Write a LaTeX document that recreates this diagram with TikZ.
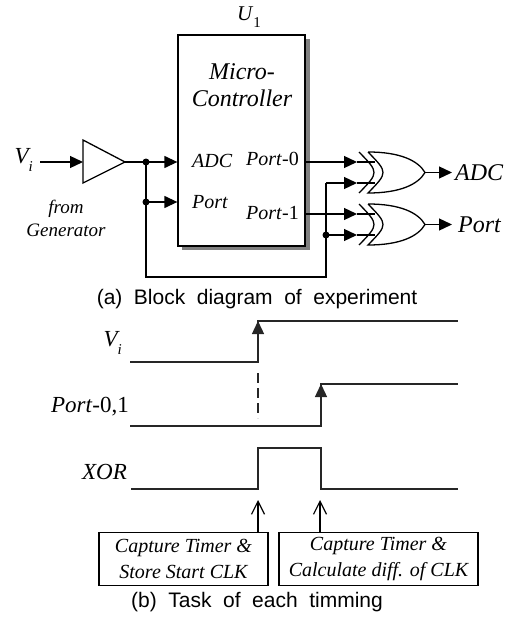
\documentclass[tikz,border=0pt]{standalone}
\usepackage{fontspec}
\setmainfont{Liberation Serif}
\setsansfont{Liberation Sans}
\usetikzlibrary{arrows.meta}
\begin{document}
\begin{tikzpicture}[x=1pt,y=-1pt,
  wire/.style={line width=1.3pt},
  sig/.style={line width=1.4pt, black!85},
  tip/.style={-{Triangle[length=13pt,width=12pt]}},
  otip/.style={-{Straight Barb[length=13pt,width=13pt,line width=1.2pt]}},
  jdot/.style={circle,fill,inner sep=0pt,minimum size=7pt},
  lbl/.style={inner sep=0pt, font=\fontsize{20}{23}\selectfont\itshape},
  big/.style={inner sep=0pt, font=\fontsize{24}{27}\selectfont\itshape},
  captext/.style={inner sep=0pt, font=\fontsize{21}{24}\selectfont\sffamily},
  taskbox/.style={draw, line width=1.2pt, inner sep=0pt, align=center,
    font=\fontsize{20}{26}\selectfont\itshape},
  xorg/.pic={
    \draw[wire] (0,-20.5) .. controls (32,-20.5) and (50,-12) .. (57,0)
      .. controls (50,12) and (32,20.5) .. (0,20.5)
      .. controls (20,0) .. (0,-20.5);
    \draw[wire] (-9,-20.5) .. controls (11,0) .. (-9,20.5);
  }
]
\useasboundingbox (0,0) rectangle (510,623);

% ---------- (a) block diagram ----------
\fill[black!50] (182,39) rectangle (309.5,250);
\node[draw, wire, fill=white, minimum width=127pt, minimum height=211pt,
      inner sep=0pt] (mcu) at (241.5,140.5) {};
\node[big, align=center] (mcutxt) at (242,85) {Micro-\\Controller};
\node[inner sep=0pt, font=\fontsize{21}{24}\selectfont] (u1) at (249,17)
  {\textit{U}\raisebox{-0.3em}{\fontsize{15}{15}\selectfont 1}};

\node[lbl, anchor=west] (adcin) at (192,161) {ADC};
\node[lbl, anchor=west] (portin) at (192,202) {Port};
\node[lbl, anchor=east] (p0) at (299,159) {Port\textup{-0}};
\node[lbl, anchor=east] (p1) at (299,213) {Port\textup{-1}};

\node[inner sep=0pt, font=\fontsize{23}{26}\selectfont\itshape, anchor=east] (vi) at (33,160)
  {V\raisebox{-0.35em}{\fontsize{15}{15}\selectfont i}};
\node[inner sep=0pt, font=\fontsize{19}{23}\selectfont\itshape, align=center] (gen) at (66,218)
  {from\\Generator};

% buffer
\draw[wire] (83,140) -- (83,183) -- (125,162) -- cycle;
\coordinate (bufin) at (83,162);
\coordinate (bufout) at (125,162);
\coordinate (vistart) at (40,162);
\draw[wire,tip] (vistart) -- (bufin);

\coordinate (j1) at (146,162);
\coordinate (j2) at (146,202);
\coordinate (adcpin) at (mcu.west |- j1);
\coordinate (portpin) at (mcu.west |- j2);
\draw[wire] (bufout) -- (j1);
\draw[wire,tip] (j1) -- (adcpin);
\draw[wire,tip] (j2) -- (portpin);
\node[jdot] at (j1) {};
\node[jdot] at (j2) {};

% xor gates
\pic at (368,172.5) {xorg};
\pic at (368,224.5) {xorg};
\coordinate (g1a) at (357,162);
\coordinate (g1b) at (357,183);
\coordinate (g2a) at (357,214);
\coordinate (g2b) at (357,235);
\coordinate (g1out) at (425,172.5);
\coordinate (g2out) at (425,224.5);
\coordinate (bl) at (146,277);
\coordinate (br) at (326,277);
\coordinate (vt) at (326,183);
\coordinate (j3) at (326,235);

\draw[wire,tip] (mcu.east |- g1a) -- (g1a);
\draw[wire] (g1a) -- (375,162);
\draw[wire,tip] (mcu.east |- g2a) -- (g2a);
\draw[wire] (g2a) -- (375,214);
\draw[wire] (j1) -- (bl) -- (br) -- (vt);
\draw[wire,tip] (vt) -- (g1b);
\draw[wire] (g1b) -- (375,183);
\draw[wire,tip] (j3) -- (g2b);
\draw[wire] (g2b) -- (375,235);
\node[jdot] at (j3) {};

\coordinate (o1) at (452,172.5);
\coordinate (o2) at (452,224.5);
\draw[wire,tip] (g1out) -- (o1);
\draw[wire,tip] (g2out) -- (o2);
\node[big, anchor=west] (adcout) at (455,173) {ADC};
\node[big, anchor=west] (portout) at (458,225) {Port};

\node[captext] (capa) at (257,299) {(a)\hspace{0.55em}Block\hspace{0.55em}diagram\hspace{0.55em}of\hspace{0.55em}experiment};

% ---------- (b) timing ----------
\node[inner sep=0pt, font=\fontsize{23}{26}\selectfont\itshape, anchor=east] (tvi) at (122,343)
  {V\raisebox{-0.35em}{\fontsize{15}{15}\selectfont i}};
\node[inner sep=0pt, font=\fontsize{23}{26}\selectfont\itshape, anchor=east] (tport) at (129,407)
  {Port\textup{-0,1}};
\node[inner sep=0pt, font=\fontsize{23}{26}\selectfont\itshape, anchor=east] (txor) at (127,472)
  {XOR};

\coordinate (e1lo) at (258,362);
\coordinate (e1hi) at (258,321);
\coordinate (e2lo) at (321,426);
\coordinate (e2hi) at (321,384);
\draw[sig] (130,362) -- (e1lo) -- (e1hi) -- (458,321);
\draw[sig,tip] (e1lo) -- (e1hi);
\draw[sig] (130,426) -- (e2lo) -- (e2hi) -- (458,384);
\draw[sig,tip] (e2lo) -- (e2hi);
\draw[sig, line width=1.2pt, dash pattern=on 10pt off 5pt] (258,373) -- (258,418);

\coordinate (x1) at (258,489);
\coordinate (x2) at (321,489);
\draw[sig] (131,489) -- (x1) -- (258,448) -- (321,448) -- (x2) -- (458,489);

\node[taskbox, minimum width=169pt, minimum height=53pt] (t1) at (183.5,559)
  {Capture Timer \&\\Store Start CLK};
\node[taskbox, minimum width=199pt, minimum height=53pt] (t2) at (378.5,559)
  {Capture Timer \&\\Calculate diff. of CLK};
\coordinate (a1) at (258,500);
\coordinate (a2) at (320,500);
\draw[line width=1.2pt, otip] (t1.north -| a1) -- (a1);
\draw[line width=1.2pt, otip] (t2.north -| a2) -- (a2);

\node[captext] (capb) at (257,602) {(b)\hspace{0.55em}Task\hspace{0.55em}of\hspace{0.55em}each\hspace{0.55em}timming};
\end{tikzpicture}
\end{document}
